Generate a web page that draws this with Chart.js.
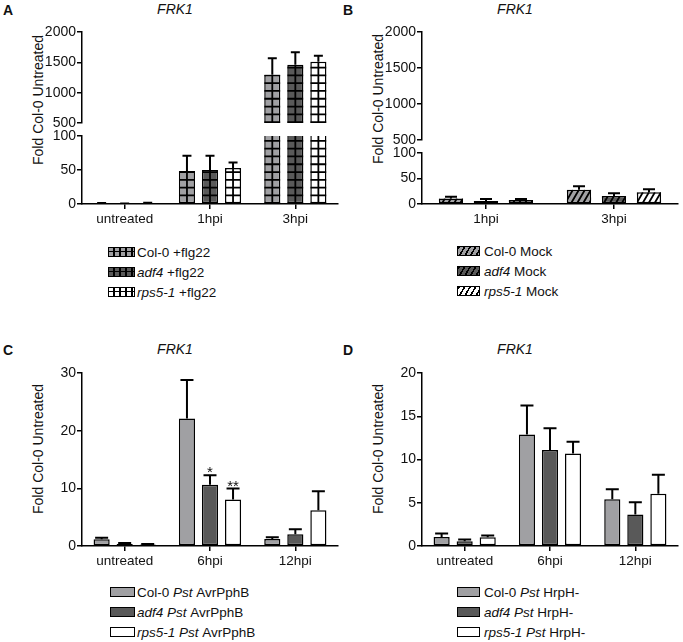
<!DOCTYPE html>
<html>
<head>
<meta charset="utf-8">
<script src="https://cdn.jsdelivr.net/npm/chart.js@4"></script>
<style>
  body { margin: 0; background: #fff; }
  #fig { position: relative; width: 683px; height: 642px; font-family: "Liberation Sans", Arial, Helvetica, sans-serif; color: #111; }
  #fig canvas { position: absolute; }
  .lt { position: absolute; font-weight: bold; font-size: 14px; line-height: 14px; transform: translate(-50%, -50%); }
  .ttl { position: absolute; font-style: italic; font-size: 14px; line-height: 14px; transform: translate(-50%, -50%); white-space: nowrap; }
  .yt { position: absolute; font-size: 14px; line-height: 14px; white-space: nowrap; transform: translate(-50%, -50%) rotate(-90deg); }
  .leg { position: absolute; font-size: 13.5px; }
  .leg div { height: 20px; display: flex; align-items: center; white-space: nowrap; }
  .sw { display: inline-block; box-sizing: border-box; border: 1.5px solid #000; height: 10px; }
</style>
</head>
<body>
<div id="fig">
  <div class="lt" style="left:8px;top:10px">A</div>
  <div class="ttl" style="left:175px;top:9px">FRK1</div>
  <div class="yt" style="left:38px;top:100px">Fold Col-0 Untreated</div>
  <canvas id="aTop"></canvas>
  <canvas id="aBot"></canvas>
  <div class="leg" style="left:108px;top:242px">
    <div><span class="sw" style="width:27px;margin-right:2px;background:linear-gradient(90deg,transparent 4.5px,#000 4.5px,#000 6px) 0 0/6px 100%,linear-gradient(transparent 2.75px,#000 2.75px,#000 4.25px,transparent 4.25px),#a0a0a3"></span>Col-0 +flg22</div>
    <div><span class="sw" style="width:27px;margin-right:2px;background:linear-gradient(90deg,transparent 4.5px,#000 4.5px,#000 6px) 0 0/6px 100%,linear-gradient(transparent 2.75px,#000 2.75px,#000 4.25px,transparent 4.25px),#595959"></span><i>adf4</i>&nbsp;+flg22</div>
    <div><span class="sw" style="width:27px;margin-right:2px;background:linear-gradient(90deg,transparent 4.5px,#000 4.5px,#000 6px) 0 0/6px 100%,linear-gradient(transparent 2.75px,#000 2.75px,#000 4.25px,transparent 4.25px),#fff"></span><i>rps5-1</i>&nbsp;+flg22</div>
  </div>

  <div class="lt" style="left:348px;top:10px">B</div>
  <div class="ttl" style="left:515px;top:9px">FRK1</div>
  <div class="yt" style="left:378px;top:99px">Fold Col-0 Untreated</div>
  <canvas id="bTop"></canvas>
  <canvas id="bBot"></canvas>
  <div class="leg" style="left:457px;top:241px">
    <div><span class="sw" style="width:23px;margin-right:4px;background:repeating-linear-gradient(120deg,#000 0 1.6px,#a0a0a3 1.6px 4.8px)"></span>Col-0 Mock</div>
    <div><span class="sw" style="width:23px;margin-right:4px;background:repeating-linear-gradient(120deg,#000 0 1.6px,#595959 1.6px 4.8px)"></span><i>adf4</i>&nbsp;Mock</div>
    <div><span class="sw" style="width:23px;margin-right:4px;background:repeating-linear-gradient(120deg,#000 0 1.6px,#fff 1.6px 4.8px)"></span><i>rps5-1</i>&nbsp;Mock</div>
  </div>

  <div class="lt" style="left:8px;top:350px">C</div>
  <div class="ttl" style="left:175px;top:349px">FRK1</div>
  <div class="yt" style="left:38px;top:449px">Fold Col-0 Untreated</div>
  <canvas id="cChart"></canvas>
  <div class="leg" style="left:110px;top:582px">
    <div><span class="sw" style="width:25px;margin-right:2px;background:#a0a0a3"></span>Col-0&nbsp;<i>Pst</i>&nbsp;AvrPphB</div>
    <div><span class="sw" style="width:25px;margin-right:2px;background:#595959"></span><i>adf4 Pst</i>&nbsp;AvrPphB</div>
    <div><span class="sw" style="width:25px;margin-right:2px;background:#fff"></span><i>rps5-1 Pst</i>&nbsp;AvrPphB</div>
  </div>

  <div class="lt" style="left:348px;top:350px">D</div>
  <div class="ttl" style="left:515px;top:349px">FRK1</div>
  <div class="yt" style="left:378px;top:449px">Fold Col-0 Untreated</div>
  <canvas id="dChart"></canvas>
  <div class="leg" style="left:457px;top:582px">
    <div><span class="sw" style="width:23px;margin-right:4px;background:#a0a0a3"></span>Col-0&nbsp;<i>Pst</i>&nbsp;HrpH-</div>
    <div><span class="sw" style="width:23px;margin-right:4px;background:#595959"></span><i>adf4 Pst</i>&nbsp;HrpH-</div>
    <div><span class="sw" style="width:23px;margin-right:4px;background:#fff"></span><i>rps5-1 Pst</i>&nbsp;HrpH-</div>
  </div>
</div>

<script>
// panel A - flg22
const aCats = ['untreated', '1hpi', '3hpi'];
const aCol = [1.2, 48.5, 1296];
const aColErr = [0.3, 22.5, 270];
const aAdf = [0.6, 50, 1460];
const aAdfErr = [0.3, 21, 205];
const aRps = [1.5, 53, 1510];
const aRpsErr = [0.4, 8, 100];
const aTopTicks = [500, 1000, 1500, 2000];
const aBotTicks = [0, 50, 100];

// panel B - mock
const bCats = ['1hpi', '3hpi'];
const bCol = [11, 28];
const bColErr = [3, 7];
const bAdf = [6, 15.5];
const bAdfErr = [4, 5.5];
const bRps = [8, 23];
const bRpsErr = [2, 6];

// panel C - Pst AvrPphB
const cCats = ['untreated', '6hpi', '12hpi'];
const cCol = [1.15, 22.1, 1.2];
const cColErr = [0.3, 6.7, 0.3];
const cAdf = [0.35, 10.6, 2.05];
const cAdfErr = [0.15, 1.65, 0.85];
const cRps = [0.25, 8.05, 6.2];
const cRpsErr = [0.08, 1.9, 3.3];
const cAdfStars = ['', '*', ''];
const cRpsStars = ['', '**', ''];
const cTicks = [0, 10, 20, 30];

// panel D - Pst HrpH-
const dCats = ['untreated', '6hpi', '12hpi'];
const dCol = [1.05, 12.9, 5.4];
const dColErr = [0.4, 3.35, 1.15];
const dAdf = [0.55, 11.1, 3.65];
const dAdfErr = [0.2, 2.5, 1.4];
const dRps = [1.0, 10.7, 6.05];
const dRpsErr = [0.22, 1.35, 2.2];
const dTicks = [0, 5, 10, 15, 20];

const FONT = '"Liberation Sans", Arial, Helvetica, sans-serif';
const GREY = '#a0a0a3', DARK = '#595959', WHITE = '#ffffff';
const YW = 50, XH = 26, PT = 10, PB = 10, PR = 4;

Chart.defaults.font.family = FONT;

// grid / hatch lines inside bars
const fills = {
  id: 'fills',
  afterDatasetsDraw(chart) {
    const { ctx, chartArea: a } = chart;
    chart.data.datasets.forEach((ds, i) => {
      if (!ds.hatch) return;
      chart.getDatasetMeta(i).data.forEach(bar => {
        const { x, y, base, width } = bar.getProps(['x', 'y', 'base', 'width'], true);
        const l = x - width / 2, r = x + width / 2;
        const t = Math.max(Math.min(y, base), a.top);
        const b = Math.min(Math.max(y, base), a.bottom);
        if (b <= t) return;
        ctx.save();
        ctx.beginPath();
        ctx.rect(l, t, r - l, b - t);
        ctx.clip();
        ctx.strokeStyle = '#000';
        ctx.lineWidth = 1.8;
        ctx.beginPath();
        if (ds.hatch === 'grid') {
          ctx.moveTo(x, t); ctx.lineTo(x, b);
          for (let yy = base; yy > t - 1; yy -= 7.8) { ctx.moveTo(l, yy); ctx.lineTo(r, yy); }
        } else {
          const h = b - t, k = 0.58;
          for (let xx = l - h * k - 6; xx < r + 6; xx += 6) { ctx.moveTo(xx, b); ctx.lineTo(xx + h * k, t); }
        }
        ctx.stroke();
        ctx.restore();
      });
    });
  }
};

// upper error bars + significance stars
const errorBars = {
  id: 'errorBars',
  afterDatasetsDraw(chart, args, opts) {
    const { ctx, chartArea: a } = chart;
    const ys = chart.scales.y;
    ctx.save();
    ctx.beginPath();
    ctx.rect(a.left, a.top - 2, a.right - a.left, a.bottom - a.top + 2);
    ctx.clip();
    ctx.strokeStyle = '#000';
    ctx.lineWidth = 2;
    chart.data.datasets.forEach((ds, i) => {
      chart.getDatasetMeta(i).data.forEach((bar, j) => {
        const yv = ys.getPixelForValue(ds.data[j]);
        const ye = ys.getPixelForValue(ds.data[j] + ds.errors[j]);
        ctx.beginPath();
        ctx.moveTo(bar.x, yv); ctx.lineTo(bar.x, ye);
        ctx.moveTo(bar.x - opts.cap / 2, ye); ctx.lineTo(bar.x + opts.cap / 2, ye);
        ctx.stroke();
      });
    });
    ctx.restore();
    ctx.save();
    ctx.fillStyle = '#111';
    ctx.font = '15px ' + FONT;
    ctx.textAlign = 'center';
    ctx.textBaseline = 'alphabetic';
    chart.data.datasets.forEach((ds, i) => {
      if (!ds.stars) return;
      chart.getDatasetMeta(i).data.forEach((bar, j) => {
        if (!ds.stars[j]) return;
        const ye = ys.getPixelForValue(ds.data[j] + ds.errors[j]);
        ctx.fillText(ds.stars[j], bar.x, ye + 2);
      });
    });
    ctx.restore();
  }
};

function makeChart(id, g, labels, sets, opt) {
  const cv = document.getElementById(id);
  const w = g.x1 - g.x0 + YW + PR;
  const h = g.y1 - g.y0 + PT + (g.showX ? XH : PB);
  cv.width = w;
  cv.height = h;
  Object.assign(cv.style, { left: (g.x0 - YW) + 'px', top: (g.y0 - PT) + 'px', width: w + 'px', height: h + 'px' });

  return new Chart(cv, {
    type: 'bar',
    data: {
      labels: labels,
      datasets: sets.map(s => ({
        data: s.data,
        errors: s.err,
        stars: s.stars,
        hatch: opt.hatch,
        backgroundColor: s.color,
        borderColor: '#000',
        borderWidth: 1.5,
        borderSkipped: false,
        categoryPercentage: opt.cat,
        barPercentage: opt.bar,
        clip: 0
      }))
    },
    options: {
      responsive: false,
      animation: false,
      layout: { padding: { top: PT, right: PR, bottom: g.showX ? 0 : PB, left: 0 } },
      plugins: {
        legend: { display: false },
        tooltip: { enabled: false },
        errorBars: { cap: opt.cap }
      },
      scales: {
        x: {
          display: g.showX,
          offset: true,
          grid: { display: true, offset: false, drawOnChartArea: false, tickLength: 5, color: '#000', lineWidth: 1.5 },
          border: { display: true, color: '#000', width: 1.5 },
          ticks: { color: '#111', font: { size: 13.5 }, padding: 2, maxRotation: 0 },
          afterFit: s => { s.height = g.showX ? XH : 0; }
        },
        y: {
          min: g.min,
          max: g.max,
          grid: { drawOnChartArea: false, tickLength: 5, color: '#000', lineWidth: 1.5 },
          border: { display: true, color: '#000', width: 1.5 },
          ticks: { color: '#111', font: { size: 14 }, padding: 1, callback: v => String(v) },
          afterBuildTicks: s => { s.ticks = g.ticks.map(v => ({ value: v })); },
          afterFit: s => { s.width = YW; }
        }
      }
    },
    plugins: [fills, errorBars]
  });
}

const aSets = [
  { data: aCol, err: aColErr, color: GREY },
  { data: aAdf, err: aAdfErr, color: DARK },
  { data: aRps, err: aRpsErr, color: WHITE }
];
const aOpt = { hatch: 'grid', cat: 0.81, bar: 0.70, cap: 9 };
makeChart('aTop', { x0: 82, x1: 338, y0: 32, y1: 123, min: 500, max: 2000, ticks: aTopTicks, showX: false }, aCats, aSets, aOpt);
makeChart('aBot', { x0: 82, x1: 338, y0: 136, y1: 204, min: 0, max: 100, ticks: aBotTicks, showX: true }, aCats, aSets, aOpt);

const bSets = [
  { data: bCol, err: bColErr, color: GREY },
  { data: bAdf, err: bAdfErr, color: DARK },
  { data: bRps, err: bRpsErr, color: WHITE }
];
const bOpt = { hatch: 'diag', cat: 0.82, bar: 0.69, cap: 12 };
makeChart('bTop', { x0: 422, x1: 678, y0: 32, y1: 140, min: 500, max: 2000, ticks: aTopTicks, showX: false }, bCats, bSets, bOpt);
makeChart('bBot', { x0: 422, x1: 678, y0: 153, y1: 204, min: 0, max: 100, ticks: aBotTicks, showX: true }, bCats, bSets, bOpt);

makeChart('cChart', { x0: 82, x1: 338, y0: 373, y1: 546, min: 0, max: 30, ticks: cTicks, showX: true }, cCats, [
  { data: cCol, err: cColErr, color: GREY },
  { data: cAdf, err: cAdfErr, color: DARK, stars: cAdfStars },
  { data: cRps, err: cRpsErr, color: WHITE, stars: cRpsStars }
], { hatch: null, cat: 0.81, bar: 0.70, cap: 13 });

makeChart('dChart', { x0: 422, x1: 678, y0: 373, y1: 546, min: 0, max: 20, ticks: dTicks, showX: true }, dCats, [
  { data: dCol, err: dColErr, color: GREY },
  { data: dAdf, err: dAdfErr, color: DARK },
  { data: dRps, err: dRpsErr, color: WHITE }
], { hatch: null, cat: 0.81, bar: 0.70, cap: 13 });
</script>
</body>
</html>
